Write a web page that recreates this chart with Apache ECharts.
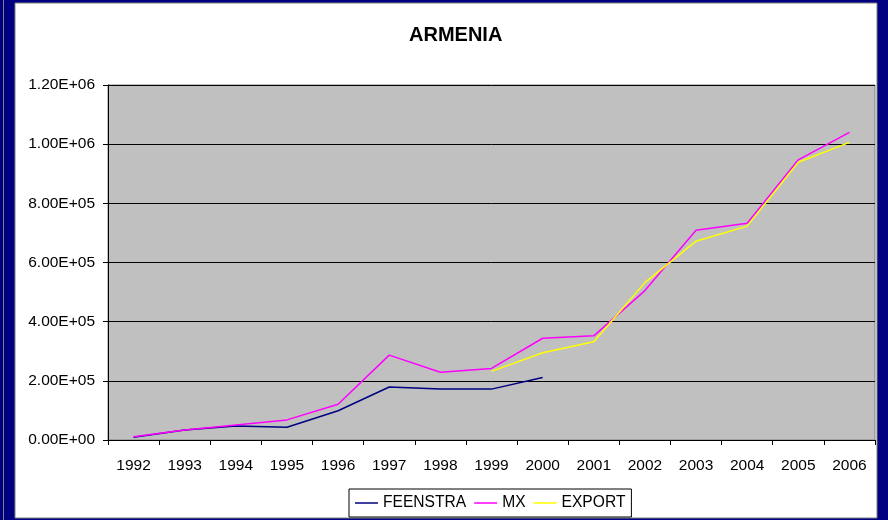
<!DOCTYPE html>
<html>
<head>
<meta charset="utf-8">
<script src="https://cdn.jsdelivr.net/npm/echarts@6/dist/echarts.min.js"></script>
<style>
html,body{margin:0;padding:0;background:#000080;}
#chart{width:888px;height:520px;}
</style>
</head>
<body>
<div id="chart"></div>
<script>
var years = ['1992','1993','1994','1995','1996','1997','1998','1999','2000','2001','2002','2003','2004','2005','2006'];
var feenstra = [9000, 34000, 47000, 43000, 99000, 179000, 172000, 172000, 211000, null, null, null, null, null, null];
var mx = [11000, 34000, 51000, 68000, 121000, 287000, 229000, 242000, 344000, 352000, 505000, 709000, 733000, 947000, 1040000];
var exportVals = [null, null, null, null, null, null, null, 232000, 295000, 332000, 532000, 672000, 723000, 939000, 1006000];
var yTickLabels = ['0.00E+00','2.00E+05','4.00E+05','6.00E+05','8.00E+05','1.00E+06','1.20E+06'];

var FONT = '"Liberation Sans", Arial, sans-serif';
var chart = echarts.init(document.getElementById('chart'), null, {renderer: 'canvas'});
chart.setOption({
  backgroundColor: '#000080',
  animation: false,
  graphic: [
    {type: 'rect', z: -10, shape: {x: 3, y: 0, width: 1, height: 520}, style: {fill: '#808080'}},
    {type: 'rect', z: -10, shape: {x: 15, y: 3, width: 862, height: 515}, style: {fill: '#ffffff', stroke: '#808080', lineWidth: 1}}
  ],
  title: {
    text: 'ARMENIA',
    left: 404,
    top: 20,
    textStyle: {fontFamily: FONT, fontSize: 20, fontWeight: 'bold', color: '#000'}
  },
  legend: {
    left: 349,
    top: 489,
    padding: [6, 6, 6, 6],
    itemGap: 8,
    itemWidth: 23,
    itemHeight: 1.5,
    icon: 'rect',
    borderColor: '#000',
    borderWidth: 1,
    textStyle: {fontFamily: FONT, fontSize: 15.6, color: '#000', lineHeight: 14},
    data: ['FEENSTRA', 'MX', 'EXPORT']
  },
  grid: {
    left: 108, top: 85, right: 13, bottom: 80,
    show: true,
    backgroundColor: '#C0C0C0',
    borderColor: '#808080',
    borderWidth: 1
  },
  xAxis: {
    type: 'category',
    data: years,
    boundaryGap: true,
    axisLine: {lineStyle: {color: '#000', width: 1}},
    axisTick: {show: true, length: 5, lineStyle: {color: '#000'}},
    axisLabel: {fontFamily: FONT, fontSize: 15.5, color: '#000', margin: 18, interval: 0},
    splitLine: {show: false}
  },
  yAxis: {
    type: 'value',
    min: 0,
    max: 1200000,
    interval: 200000,
    axisLine: {show: true, lineStyle: {color: '#000', width: 1}},
    axisTick: {show: true, length: 5, lineStyle: {color: '#000'}},
    axisLabel: {
      fontFamily: FONT, fontSize: 15.5, color: '#000', margin: 13,
      formatter: function (v) { return yTickLabels[Math.round(v / 200000)]; }
    },
    splitLine: {show: true, lineStyle: {color: '#000', width: 1}}
  },
  series: [
    {name: 'FEENSTRA', type: 'line', data: feenstra, symbol: 'none',
     lineStyle: {color: '#000080', width: 1.5}, itemStyle: {color: '#000080'}},
    {name: 'MX', type: 'line', data: mx, symbol: 'none',
     lineStyle: {color: '#FF00FF', width: 1.5}, itemStyle: {color: '#FF00FF'}},
    {name: 'EXPORT', type: 'line', data: exportVals, symbol: 'none',
     lineStyle: {color: '#FFFF00', width: 1.5}, itemStyle: {color: '#FFFF00'}}
  ]
});
</script>
</body>
</html>
